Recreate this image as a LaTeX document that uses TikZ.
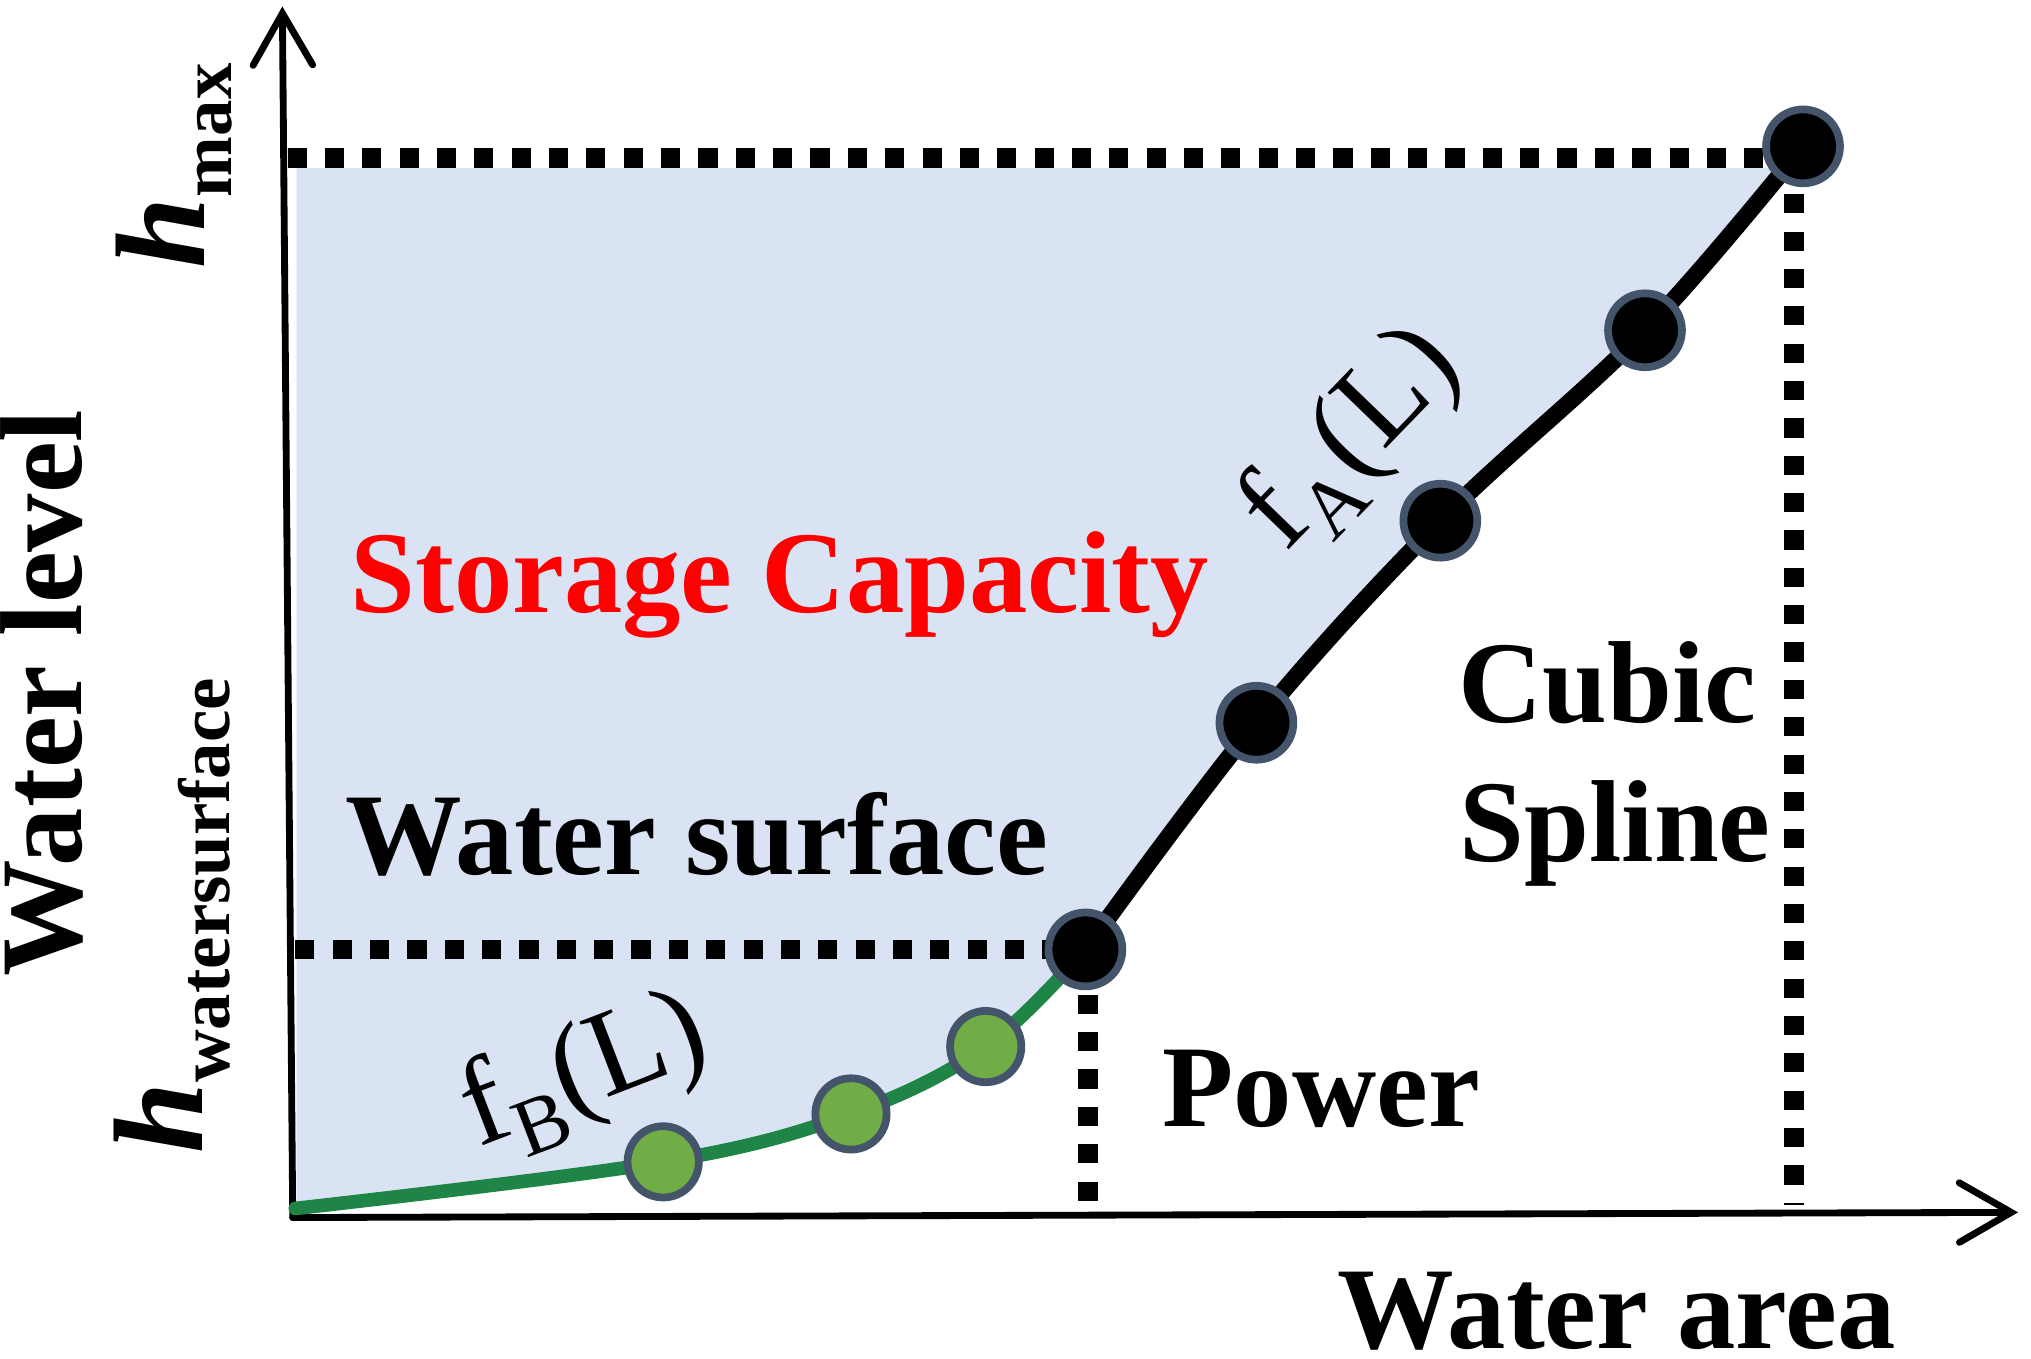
\documentclass[tikz,border=0pt]{standalone}
\usepackage{fontspec}
\setmainfont{Liberation Serif}
\usetikzlibrary{arrows.meta}
\definecolor{fillblue}{RGB}{218,227,243}
\definecolor{ringcol}{RGB}{68,84,106}
\definecolor{dotgreen}{RGB}{112,173,71}
\definecolor{linegreen}{RGB}{31,133,71}
\begin{document}
\begin{tikzpicture}[x=0.01cm,y=-0.01cm,
  axisline/.style={line width=1.5pt, line cap=round,
     -{Straight Barb[length=0.40cm,width=0.46cm,line width=1.5pt,line cap=round]}},
  dotline/.style={line width=4.2pt, dash pattern=on 4.2pt off 4.0pt},
  blackdot/.style={circle, fill=black, draw=ringcol, line width=1.7pt, minimum size=0.57cm, inner sep=0pt},
  greendot/.style={circle, fill=dotgreen, draw=ringcol, line width=1.7pt, minimum size=0.55cm, inner sep=0pt},
  lab/.style={font=\fontsize{25.6}{30}\selectfont\bfseries, inner sep=0pt},
  flab/.style={font=\fontsize{27}{30}\selectfont, inner sep=0pt}
]
\useasboundingbox (0,0) rectangle (1568,1049);

% key coordinates
\coordinate (O) at (226,940);
\coordinate (ytip) at (218,5);
\coordinate (xtip) at (1558,936);
\coordinate (g0) at (228,933);
\coordinate (g1) at (512,897);
\coordinate (g2) at (657,860);
\coordinate (g3) at (761,808);
\coordinate (b0) at (838,733);
\coordinate (b1) at (970,558);
\coordinate (b2) at (1112,402);
\coordinate (b3) at (1270,255);
\coordinate (b4) at (1392,113);

% shaded region
\begin{scope}
  \clip (229,130) rectangle (1600,945);
  \fill[fillblue] plot[smooth,tension=0.6] coordinates {(g0) (g1) (g2) (g3) (b0)}
     -- plot[smooth,tension=0.6] coordinates {(b0) (b1) (b2) (b3) (b4)}
     -- (1392,100) -- (228,100) -- cycle;
\end{scope}

% dotted guide lines
\draw[dotline] (222,122) -- (b4 |- 0,122);
\draw[dotline] (228,733) -- (b0);
\draw[dotline] (1385,150) -- (1385,930);
\draw[dotline] (840,768) -- (840,932);

% axes
\draw[axisline] (O) -- (ytip);
\draw[axisline] (O) -- (xtip);

% curves
\draw[linegreen, line width=3.0pt, line cap=round] plot[smooth,tension=0.6] coordinates {(g0) (g1) (g2) (g3) (b0)};
\draw[black, line width=3.7pt, line cap=round] plot[smooth,tension=0.6] coordinates {(b0) (b1) (b2) (b3) (b4)};

% points
\node[greendot] (G1) at (g1) {};
\node[greendot] (G2) at (g2) {};
\node[greendot] (G3) at (g3) {};
\node[blackdot] (B0) at (b0) {};
\node[blackdot] (B1) at (b1) {};
\node[blackdot] (B2) at (b2) {};
\node[blackdot] (B3) at (b3) {};
\node[blackdot] (B4) at (b4) {};

% texts
\node[lab, text=red, anchor=base] (sc) at (602,473) {Storage Capacity};
\node[lab, anchor=base] (ws) at (538,675) {Water surface};
\node[lab, anchor=base] (cu) at (1241,558) {Cubic};
\node[lab, anchor=base] (sp) at (1247,665) {Spline};
\node[lab, anchor=base] (pw) at (1020,870) {Power};
\node[lab, anchor=base] (wa) at (1248,1041) {Water area};
\node[lab, anchor=base, rotate=90] (wl) at (63,535) {Water level};
\node[inner sep=0pt, anchor=base, rotate=90] (hmax) at (158,128)
  {{\fontsize{28}{30}\selectfont\bfseries\itshape h}\raisebox{-6pt}{\fontsize{16}{18}\selectfont\bfseries max}};
\node[inner sep=0pt, anchor=base, rotate=90] (hws) at (156,707)
  {{\fontsize{28}{30}\selectfont\bfseries\itshape h}\raisebox{-6pt}{\fontsize{16}{18}\selectfont\bfseries watersurface}};
\node[flab, rotate=46] (fa) at (1045,340) {f\raisebox{-6pt}{\fontsize{18}{20}\selectfont A}(L)};
\node[flab, rotate=21] (fb) at (452,830) {f\raisebox{-6pt}{\fontsize{18}{20}\selectfont B}(L)};
\end{tikzpicture}
\end{document}
